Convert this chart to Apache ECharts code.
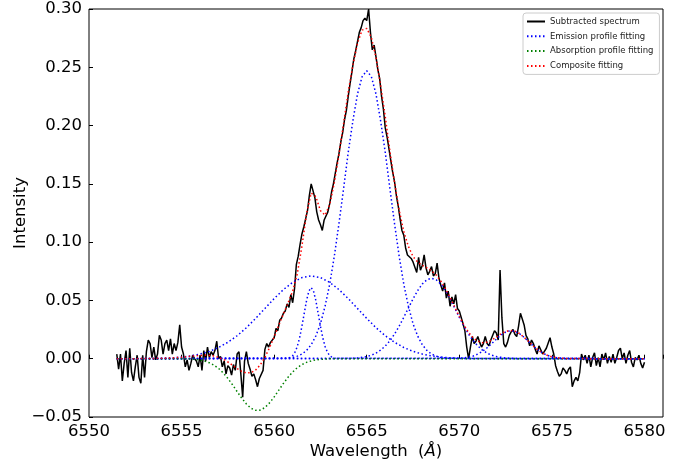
<!DOCTYPE html>
<html>
<head>
<meta charset="utf-8">
<script src="https://cdn.jsdelivr.net/npm/echarts@6/dist/echarts.min.js"></script>
<style>
html, body { margin: 0; padding: 0; background: #fff; }
#chart { width: 694px; height: 466px; }
</style>
</head>
<body>
<div id="chart"></div>
<script>
// observed spectrum, one value every 0.1 Å starting at 6551.5 Å
var specStart = 6551.5;
var specStep = 0.1;
var spectrum = [
  0.004, -0.009, 0.004, -0.019, -0.004, 0.007, -0.016, 0.009, -0.012, -0.019,
  -0.007, 0.003, -0.016, -0.021, 0.003, -0.016, 0.006, 0.016, 0.013, 0.001,
  0.010, -0.001, 0.004, 0.020, 0.016, 0.004, 0.013, 0.016, 0.007, 0.017,
  0.004, 0.013, 0.007, 0.014, 0.029, 0.010, 0.004, -0.007, -0.001, -0.010,
  -0.004, 0.003, 0.000, -0.002, -0.007, 0.003, -0.010, 0.007, -0.002, 0.010,
  0.001, 0.006, 0.003, 0.007, 0.015, 0.000, 0.002, -0.007, -0.002, -0.013,
  -0.006, -0.008, -0.014, -0.005, -0.010, 0.004, 0.006, -0.013, -0.033, -0.002,
  0.006, -0.004, -0.009, -0.015, -0.013, -0.018, -0.024, -0.017, -0.017, -0.010,
  0.008, 0.013, 0.010, 0.014, 0.014, 0.018, 0.026, 0.024, 0.033, 0.035,
  0.039, 0.041, 0.047, 0.044, 0.055, 0.048, 0.060, 0.081, 0.088, 0.098,
  0.107, 0.113, 0.120, 0.127, 0.140, 0.150, 0.151, 0.138, 0.126, 0.119,
  0.115, 0.110, 0.119, 0.120, 0.126, 0.133, 0.143, 0.150, 0.159, 0.168,
  0.176, 0.186, 0.194, 0.205, 0.213, 0.225, 0.236, 0.246, 0.257, 0.264,
  0.272, 0.280, 0.284, 0.290, 0.292, 0.290, 0.300, 0.280, 0.265, 0.269,
  0.259, 0.248, 0.240, 0.225, 0.214, 0.198, 0.190, 0.180, 0.170, 0.160,
  0.152, 0.140, 0.131, 0.120, 0.110, 0.106, 0.095, 0.089, 0.088, 0.086,
  0.083, 0.082, 0.074, 0.087, 0.076, 0.080, 0.089, 0.078, 0.072, 0.075,
  0.079, 0.071, 0.073, 0.082, 0.069, 0.063, 0.058, 0.065, 0.052, 0.058,
  0.045, 0.053, 0.047, 0.055, 0.043, 0.041, 0.040, 0.030, 0.024, 0.010,
  0.000, 0.010, 0.019, 0.013, 0.015, 0.019, 0.014, 0.010, 0.013, 0.019,
  0.013, 0.011, 0.016, 0.017, 0.024, 0.022, 0.016, 0.076, 0.035, 0.013,
  0.010, 0.014, 0.020, 0.023, 0.025, 0.021, 0.019, 0.028, 0.039, 0.034,
  0.029, 0.020, 0.017, 0.011, 0.016, 0.013, 0.008, 0.004, 0.011, 0.010,
  0.004, 0.005, 0.009, 0.008, 0.018, 0.010, 0.004, -0.006, -0.011, -0.015,
  -0.013, -0.008, -0.010, -0.013, -0.009, -0.007, -0.024, -0.019, -0.016, -0.019,
  -0.012, 0.004, -0.001, 0.003, -0.004, 0.003, -0.007, 0.001, 0.005, -0.006,
  0.001, -0.007, 0.004, -0.001, 0.005, -0.004, 0.002, -0.003, 0.004, -0.004,
  0.001, 0.007, 0.009, 0.000, 0.005, -0.004, 0.003, 0.007, -0.003, -0.007,
  0.001, -0.001, 0.003, -0.004, -0.008, -0.003
];

// fitted profiles, [wavelength, intensity]
var emissionBroad = [
  [6551.5, 0], [6553, 0.0001], [6554, 0.0004], [6554.5, 0.0008], [6555, 0.0014],
  [6555.5, 0.0024], [6556, 0.0040], [6556.5, 0.0063], [6557, 0.0096], [6557.5, 0.0141],
  [6558, 0.0197], [6558.5, 0.0266], [6559, 0.0346], [6559.5, 0.0431], [6560, 0.0516],
  [6560.5, 0.0593], [6561, 0.0655], [6561.5, 0.0696], [6562, 0.0710], [6562.5, 0.0696],
  [6563, 0.0655], [6563.5, 0.0593], [6564, 0.0516], [6564.5, 0.0431], [6565, 0.0346],
  [6565.5, 0.0266], [6566, 0.0197], [6566.5, 0.0141], [6567, 0.0096], [6567.5, 0.0063],
  [6568, 0.0040], [6568.5, 0.0024], [6569, 0.0014], [6569.5, 0.0008], [6570, 0.0004],
  [6571, 0.0001], [6580, 0]
];
var emissionNarrow = [
  [6551.5, 0], [6560.75, 0.0005], [6560.875, 0.0012], [6561, 0.0027], [6561.125, 0.0056],
  [6561.25, 0.0105], [6561.375, 0.018], [6561.5, 0.028], [6561.625, 0.039], [6561.75, 0.050],
  [6561.875, 0.058], [6562, 0.061], [6562.125, 0.058], [6562.25, 0.050], [6562.375, 0.039],
  [6562.5, 0.028], [6562.625, 0.018], [6562.75, 0.0105], [6562.875, 0.0056], [6563, 0.0027],
  [6563.125, 0.0012], [6563.25, 0.0005], [6580, 0]
];
var emissionMain = [
  [6551.5, 0], [6560.5, 0.0003], [6560.75, 0.0006], [6561, 0.0011], [6561.25, 0.0022],
  [6561.5, 0.0040], [6561.75, 0.0071], [6562, 0.012], [6562.25, 0.0195], [6562.5, 0.030],
  [6562.75, 0.045], [6563, 0.064], [6563.25, 0.088], [6563.5, 0.116], [6563.75, 0.146],
  [6564, 0.177], [6564.25, 0.204], [6564.5, 0.227], [6564.75, 0.242], [6565, 0.247],
  [6565.25, 0.242], [6565.5, 0.227], [6565.75, 0.204], [6566, 0.177], [6566.25, 0.146],
  [6566.5, 0.116], [6566.75, 0.088], [6567, 0.064], [6567.25, 0.045], [6567.5, 0.030],
  [6567.75, 0.0195], [6568, 0.012], [6568.25, 0.0071], [6568.5, 0.0040], [6568.75, 0.0022],
  [6569, 0.0011], [6569.25, 0.0006], [6569.5, 0.0003], [6580, 0]
];
var emissionRed = [
  [6551.5, 0], [6564, 0.0002], [6564.5, 0.0006], [6565, 0.0018], [6565.25, 0.0030],
  [6565.5, 0.0048], [6565.75, 0.0074], [6566, 0.0109], [6566.25, 0.0154], [6566.5, 0.0211],
  [6566.75, 0.0279], [6567, 0.0355], [6567.25, 0.0435], [6567.5, 0.0513], [6567.75, 0.0584],
  [6568, 0.0641], [6568.25, 0.0677], [6568.5, 0.0690], [6568.75, 0.0677], [6569, 0.0641],
  [6569.25, 0.0584], [6569.5, 0.0513], [6569.75, 0.0435], [6570, 0.0355], [6570.25, 0.0279],
  [6570.5, 0.0211], [6570.75, 0.0154], [6571, 0.0109], [6571.25, 0.0074], [6571.5, 0.0048],
  [6571.75, 0.0030], [6572, 0.0018], [6572.5, 0.0006], [6573, 0.0002], [6580, 0]
];
var emissionFar = [
  [6551.5, 0], [6570, 0.0003], [6570.25, 0.0007], [6570.5, 0.0013], [6570.75, 0.0023],
  [6571, 0.0040], [6571.25, 0.0063], [6571.5, 0.0094], [6571.75, 0.0130], [6572, 0.0168],
  [6572.25, 0.0203], [6572.5, 0.0228], [6572.75, 0.0240], [6573, 0.0235], [6573.25, 0.0215],
  [6573.5, 0.0183], [6573.75, 0.0146], [6574, 0.0108], [6574.25, 0.0075], [6574.5, 0.0048],
  [6574.75, 0.0029], [6575, 0.0016], [6575.25, 0.0009], [6575.5, 0.0004], [6576, 0.0001],
  [6580, 0]
];
var absorption = [
  [6551.5, 0], [6555, -0.0001], [6555.5, -0.0003], [6555.75, -0.0006], [6556, -0.0012],
  [6556.25, -0.0021], [6556.5, -0.0035], [6556.75, -0.0055], [6557, -0.0084], [6557.25, -0.0122],
  [6557.5, -0.0169], [6557.75, -0.0223], [6558, -0.0282], [6558.25, -0.0339], [6558.5, -0.0388],
  [6558.75, -0.0425], [6559, -0.0443], [6559.25, -0.0441], [6559.5, -0.0419], [6559.75, -0.0379],
  [6560, -0.0328], [6560.25, -0.0270], [6560.5, -0.0212], [6560.75, -0.0159], [6561, -0.0114],
  [6561.25, -0.0077], [6561.5, -0.0050], [6561.75, -0.0031], [6562, -0.0019], [6562.25, -0.0010],
  [6562.5, -0.0006], [6562.75, -0.0003], [6563, -0.0001], [6580, 0]
];
var composite = [
  [6551.5, 0], [6553, 0.0001], [6554, 0.0004], [6554.5, 0.0008],
  [6555, 0.0013], [6555.25, 0.0017], [6555.5, 0.0021], [6555.75, 0.0025],
  [6556, 0.0028], [6556.25, 0.0029], [6556.5, 0.0028], [6556.75, 0.0023],
  [6557, 0.0012], [6557.25, -0.0005], [6557.5, -0.0028], [6557.75, -0.0056],
  [6558, -0.0085], [6558.25, -0.0109], [6558.5, -0.0122], [6558.75, -0.0120],
  [6559, -0.0097], [6559.25, -0.0053], [6559.5, 0.0012], [6559.75, 0.0095],
  [6560, 0.0188], [6560.25, 0.0287], [6560.5, 0.0384], [6560.75, 0.0479],
  [6561, 0.0579], [6561.25, 0.0729], [6561.5, 0.0966], [6561.75, 0.1246],
  [6562, 0.1421], [6562.25, 0.1391], [6562.5, 0.1270], [6562.75, 0.1231],
  [6563, 0.1321], [6563.25, 0.1512], [6563.5, 0.1753], [6563.75, 0.2016],
  [6564, 0.2288], [6564.25, 0.2517], [6564.5, 0.2707], [6564.75, 0.2819],
  [6565, 0.2834], [6565.25, 0.2755], [6565.5, 0.2584], [6565.75, 0.2344],
  [6566, 0.2076], [6566.25, 0.1781], [6566.5, 0.1512], [6566.75, 0.1276],
  [6567, 0.1091], [6567.25, 0.0963], [6567.5, 0.0876], [6567.75, 0.0829],
  [6568, 0.0801], [6568.25, 0.0779], [6568.5, 0.0754], [6568.75, 0.0718],
  [6569, 0.0666], [6569.25, 0.0601], [6569.5, 0.0525], [6569.75, 0.0444],
  [6570, 0.0362], [6570.25, 0.0289], [6570.5, 0.0226], [6570.75, 0.0178],
  [6571, 0.0150], [6571.25, 0.0137], [6571.5, 0.0142], [6571.75, 0.0160],
  [6572, 0.0186], [6572.25, 0.0214], [6572.5, 0.0234], [6572.75, 0.0243],
  [6573, 0.0237], [6573.25, 0.0216], [6573.5, 0.0183], [6573.75, 0.0146],
  [6574, 0.0108], [6574.25, 0.0075], [6574.5, 0.0048], [6574.75, 0.0029],
  [6575, 0.0016], [6575.25, 0.0009], [6575.5, 0.0004], [6575.75, 0.0002],
  [6576, 0.0001], [6580, 0]
];

var xTicks = [6550, 6555, 6560, 6565, 6570, 6575, 6580];
var legendNames = ['Subtracted spectrum', 'Emission profile fitting', 'Absorption profile fitting', 'Composite fitting'];

var font = 'DejaVu Sans';
var dotted = [1.5, 2.5];

var specData = spectrum.map(function (v, i) {
  return [+(specStart + i * specStep).toFixed(2), v];
});

function dottedLine(name, data, color) {
  return {
    name: name,
    type: 'line',
    data: data,
    symbol: 'none',
    silent: true,
    lineStyle: { color: color, width: 1.5, type: dotted },
    itemStyle: { color: color }
  };
}

var chart = echarts.init(document.getElementById('chart'));

var option = {
  animation: false,
  backgroundColor: '#fff',
  grid: {
    left: 89, right: 31, top: 9, bottom: 49,
    show: true, borderColor: '#000', borderWidth: 1
  },
  legend: {
    data: legendNames,
    orient: 'vertical',
    left: 523, top: 13,
    itemWidth: 18, itemHeight: 8, itemGap: 5.8,
    padding: [4, 6, 4, 3],
    borderColor: '#cccccc', borderWidth: 1, borderRadius: 3,
    backgroundColor: '#fff',
    itemStyle: { opacity: 0 },
    textStyle: { fontFamily: font, fontSize: 8.5, color: '#222' }
  },
  xAxis: {
    type: 'value',
    min: 6550, max: 6581, interval: 5,
    name: '{n|Wavelength  (}{i|Å}{n|)}',
    nameLocation: 'middle',
    nameGap: 26,
    nameMoveOverlap: false,
    nameTextStyle: {
      rich: {
        n: { fontFamily: font, fontSize: 16.5, color: '#000' },
        i: { fontFamily: font, fontSize: 16.5, fontStyle: 'italic', color: '#000' }
      }
    },
    axisLine: { show: false },
    axisTick: { inside: true, length: 4, lineStyle: { color: '#000' } },
    splitLine: { show: false },
    axisLabel: {
      fontFamily: font, fontSize: 16.5, color: '#000', margin: 6,
      formatter: function (v) { return xTicks.indexOf(v) >= 0 ? String(v) : ''; }
    }
  },
  yAxis: {
    type: 'value',
    min: -0.05, max: 0.30, interval: 0.05,
    name: 'Intensity',
    nameLocation: 'middle',
    nameGap: 60,
    nameMoveOverlap: false,
    nameTextStyle: { fontFamily: font, fontSize: 16.5, color: '#000' },
    axisLine: { show: false },
    axisTick: { inside: true, length: 4, lineStyle: { color: '#000' } },
    splitLine: { show: false },
    axisLabel: {
      fontFamily: font, fontSize: 16.5, color: '#000', margin: 7,
      formatter: function (v) {
        if (Math.abs(v) < 1e-9) return '0.00';
        return (v < 0 ? '\u2212' : '') + Math.abs(v).toFixed(2);
      }
    }
  },
  series: [
    {
      name: 'Subtracted spectrum',
      type: 'line',
      data: specData,
      symbol: 'none',
      silent: true,
      lineStyle: { color: '#000', width: 1.5 },
      itemStyle: { color: '#000' }
    },
    dottedLine('Emission profile fitting', emissionBroad, '#0000ff'),
    dottedLine('Emission profile fitting', emissionNarrow, '#0000ff'),
    dottedLine('Emission profile fitting', emissionMain, '#0000ff'),
    dottedLine('Emission profile fitting', emissionRed, '#0000ff'),
    dottedLine('Emission profile fitting', emissionFar, '#0000ff'),
    dottedLine('Absorption profile fitting', absorption, '#008000'),
    dottedLine('Composite fitting', composite, '#ff0000')
  ]
};

chart.setOption(option);
</script>
</body>
</html>
